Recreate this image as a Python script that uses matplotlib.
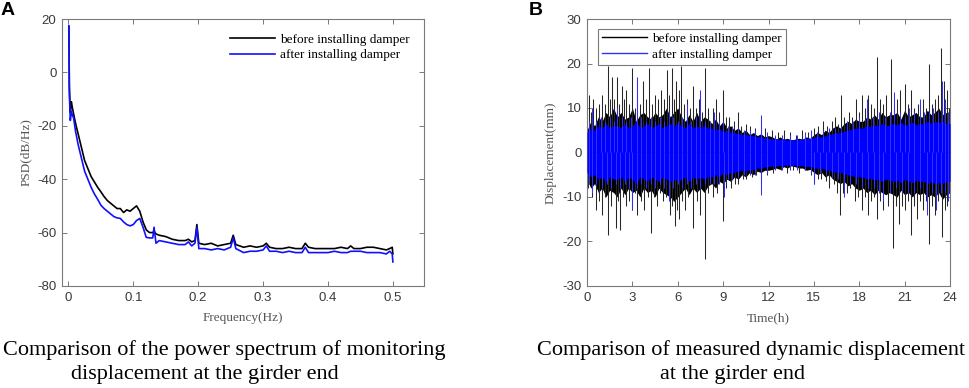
import numpy as np
import matplotlib
matplotlib.use('Agg')
import matplotlib.pyplot as plt
from matplotlib.lines import Line2D

# ---- panel A: power spectrum ----
freq = [0.0008, 0.0015, 0.003, 0.0046, 0.006, 0.008, 0.011, 0.015, 0.02, 0.025, 0.03, 0.035,
        0.04, 0.045, 0.05, 0.055, 0.06, 0.065, 0.07, 0.075, 0.08, 0.085, 0.09, 0.095, 0.1,
        0.105, 0.11, 0.115, 0.12, 0.125, 0.13, 0.132, 0.135, 0.14, 0.15, 0.16, 0.17, 0.18,
        0.185, 0.19, 0.195, 0.198, 0.201, 0.21, 0.22, 0.23, 0.24, 0.25, 0.254, 0.258, 0.27,
        0.28, 0.29, 0.3, 0.305, 0.31, 0.32, 0.33, 0.34, 0.35, 0.36, 0.365, 0.37, 0.38, 0.39,
        0.4, 0.41, 0.42, 0.43, 0.435, 0.44, 0.45, 0.46, 0.47, 0.48, 0.49, 0.495, 0.499, 0.5]
psd_before = [17, -5, -15, -11, -13, -15.5, -19, -23, -28, -33, -36, -39,
              -41, -43, -44.7, -46.5, -48, -49, -50, -51, -51, -52.5, -51.5, -52, -51,
              -50, -52, -56, -59, -60, -60, -59.5, -60.5, -61, -61.5, -62.5, -63, -63,
              -62.5, -63.5, -63, -57, -64, -64.5, -64, -65, -64.5, -64, -61, -64.5, -65.5,
              -65, -65.5, -65, -64, -65.5, -66, -66, -65.5, -66, -66, -64, -65.5, -66, -66,
              -66, -66, -65.5, -66, -65, -66, -66, -65.5, -65.5, -66, -66.5, -66, -65.5, -68]
psd_after = [17.5, -8, -18, -14.5, -16, -17, -22, -27, -32, -37, -40, -43,
             -45.5, -47.5, -49.7, -51, -52, -53, -54, -54.5, -54.7, -56, -57, -57.5, -57,
             -55.5, -54.7, -58, -61.8, -62, -62, -58, -64, -63, -63.5, -64, -64.5, -64.5,
             -63.5, -65, -64, -58, -66, -66, -66.5, -66, -66.5, -65.5, -62, -66, -67.5,
             -67, -67, -66.5, -65, -67, -67, -67.5, -67, -67.5, -67.5, -65.5, -67.5, -67.5, -67.5,
             -67.5, -67, -67.5, -67.5, -67, -67, -67, -67.5, -67.5, -67.5, -68, -67, -68, -71]

# ---- panel B: displacement time history ----
# dense band limits, every 0.25 h
t_core = np.arange(0, 24.01, 0.25)
band_hi_before = [5, 7, 6, 8, 7, 9, 8, 10, 8,
                  9, 7.5, 8, 10, 7, 8.5, 9, 8,
                  7.5, 9, 8, 8.5, 10, 8, 9, 10,
                  8, 7, 8.5, 7, 9, 7, 8, 7.5,
                  6.5, 7.5, 6, 7, 5.5, 6, 5, 5.5,
                  4.5, 5, 4, 4.5, 3.8, 4.2, 3.5, 3.8,
                  3.5, 3, 3.5, 3, 3.2, 2.8, 3, 3.2,
                  3, 3.5, 3.2, 4, 4.5, 4, 5, 4.5,
                  5.5, 6, 5.5, 6.5, 7, 6.5, 7.5, 7,
                  7, 8, 7.5, 8.5, 7.5, 9, 8, 8.5,
                  8.5, 9, 7.5, 9.5, 8, 8.5, 9, 8,
                  8, 9.5, 8.5, 9, 10, 8.5, 9, 8]
band_lo_before = [-6, -8, -7, -9, -8, -10, -8.5, -9, -10,
                  -8, -9.5, -8, -9, -8.5, -10, -8, -9,
                  -8.5, -10, -8, -9, -9.5, -10, -11, -10,
                  -9, -8, -9.5, -8, -9, -8, -9, -7.5,
                  -7, -8, -6.5, -7, -6, -6.5, -5.5, -6,
                  -5, -5.5, -4.5, -5, -4.2, -4.5, -4, -4,
                  -3.8, -3.5, -3.8, -3.2, -3.5, -3, -3.2, -3.5,
                  -3.5, -4, -3.8, -4.5, -5, -4.5, -5.5, -5,
                  -6, -6.5, -7, -6.5, -7.5, -7, -8, -8.5,
                  -8, -9, -8.5, -9.5, -8.5, -9, -9.5, -9,
                  -9.5, -10, -8.5, -9.5, -9, -10, -9, -9.5,
                  -9, -10, -9.5, -10, -9, -10.5, -9.5, -9]
band_after = [4.5, 5.5, 5, 6, 5.5, 6.5, 5.5, 6, 6,
              5.5, 6.5, 5.5, 6, 7, 5.5, 6, 6.5,
              5.5, 6, 6.5, 5.5, 6, 6.5, 6, 6.5,
              6, 5.5, 6.5, 5.5, 6, 5.5, 6, 5.5,
              5.5, 5, 5.5, 4.5, 5, 4.5, 4.5, 4.2,
              4, 4.2, 3.8, 3.8, 3.5, 3.6, 3.2, 3.2,
              3, 3.1, 2.9, 3, 2.8, 2.9, 2.8, 3,
              3, 3.2, 3.1, 3.4, 3.6, 3.5, 3.8, 4,
              4.2, 4.5, 4.4, 4.8, 5, 5.2, 5.5, 5.5,
              5.5, 6, 5.8, 6.2, 6, 6.5, 6, 6.2,
              6.5, 6.2, 6.8, 6, 6.5, 6.8, 6.2, 6.5,
              6.5, 7, 6.5, 7, 6.8, 7, 6.5, 6.5]

# spikes (time h, peak mm)
t_up_before = [0.1, 0.25, 0.4, 0.6, 0.8, 1.0, 1.2, 1.4, 1.5, 1.65, 1.8, 1.95, 2.1, 2.3, 2.45, 2.6,
               2.8, 3.0, 3.15, 3.3, 3.5, 3.7, 3.9, 4.1, 4.3, 4.5, 4.7, 4.9, 5.1, 5.3, 5.45, 5.6,
               5.75, 5.9, 6.05, 6.2, 6.4, 6.6, 6.8, 7.0, 7.2, 7.4, 7.6, 7.8, 8.0, 8.3, 8.5, 8.7,
               9.0, 9.2, 9.4, 9.7, 10.0, 10.2, 10.5, 10.8, 11.1, 11.5, 11.8, 12.2, 12.6, 13.0,
               13.4, 13.8, 14.2, 14.6, 15.0, 15.3, 15.6, 15.9, 16.2, 16.4, 16.6, 16.8, 17.0,
               17.3, 17.55, 17.8, 18.0, 18.2, 18.4, 18.6, 18.8, 19.0, 19.2, 19.4, 19.6, 19.8,
               20.1, 20.3, 20.5, 20.7, 21.0, 21.2, 21.4, 21.6, 21.9, 22.2, 22.4, 22.6, 22.8,
               23.0, 23.2, 23.4, 23.6, 23.8, 23.95]
v_up_before = [13, 9, 12, 10, 11, 13, 11, 19.5, 12, 17, 12, 17, 11, 15, 12, 14,
               11, 19, 10, 13, 11, 16, 12, 19, 11, 13, 12, 14, 12, 18.5, 13, 19,
               12, 16, 14, 19.5, 11, 12, 10, 15, 10, 12, 9, 19, 10, 10, 12, 9,
               14, 8, 8, 7, 9, 6, 6.5, 6, 5.5, 7, 5.5, 5, 4.5, 5,
               4.5, 4, 5, 4.5, 5.5, 6, 7, 6, 7, 8, 6.5, 13, 8,
               9, 8, 12, 9, 13, 10, 13, 11, 10, 21.5, 12, 11, 13,
               21, 11, 12, 14, 15.5, 11, 14, 10, 11, 12, 10, 20, 11,
               12, 13, 23.5, 16, 14, 10]
t_dn_before = [0.05, 0.3, 0.6, 0.8, 1.0, 1.2, 1.4, 1.6, 1.9, 2.05, 2.2, 2.4, 2.6, 2.8, 3.0, 3.15,
               3.3, 3.55, 3.8, 4.0, 4.2, 4.4, 4.6, 4.8, 5.0, 5.2, 5.5, 5.65, 5.8, 5.95, 6.1, 6.3,
               6.5, 6.7, 7.0, 7.25, 7.5, 7.8, 8.0, 8.3, 8.6, 9.0, 9.2, 9.5, 9.8, 10.0, 10.3,
               10.5, 10.9, 11.2, 11.5, 11.9, 12.3, 12.8, 13.2, 13.6, 14.0, 14.4, 14.8, 15.0,
               15.3, 15.5, 15.8, 16.0, 16.3, 16.5, 16.7, 16.9, 17.2, 17.4, 17.7, 17.9, 18.2,
               18.4, 18.6, 18.8, 19.0, 19.2, 19.4, 19.6, 19.9, 20.2, 20.4, 20.6, 20.8, 21.0,
               21.2, 21.4, 21.6, 21.8, 22.0, 22.2, 22.4, 22.6, 22.8, 23.0, 23.2, 23.5, 23.65,
               23.8, 23.95]
v_dn_before = [-8, -10, -13, -11, -14, -10, -18.5, -12, -17, -11, -17.5, -10, -12, -11, -13, -9,
               -14, -11, -13, -10, -18, -10, -12, -9, -11, -10, -14, -12, -16.5, -13, -15, -11,
               -13, -10, -17, -11, -14, -24, -9, -10, -9, -15.5, -8, -8, -7, -7, -6,
               -6, -5.5, -5, -7, -5, -4.5, -4, -4.5, -4, -4.5, -4, -5, -7,
               -6, -6, -6.5, -8, -7, -9, -14, -9, -9, -8, -11, -10, -13,
               -10, -14, -11, -10, -15, -11, -13, -12, -21.5, -12, -16, -12, -13,
               -11, -18.5, -12, -15, -11, -13, -11, -20.5, -12, -14, -11, -19, -13,
               -12, -9]

t_up_after = [0.1, 0.3, 0.6, 0.9, 1.2, 1.5, 1.8, 2.0, 2.3, 2.6, 2.9, 3.3, 3.6, 3.9, 4.2, 4.5,
              4.8, 5.1, 5.4, 5.7, 6.0, 6.3, 6.6, 6.9, 7.2, 7.5, 7.8, 8.1, 8.4, 8.7, 9.0, 9.3,
              9.6, 10.0, 10.4, 10.8, 11.1, 11.5, 11.9, 12.4, 12.9, 13.4, 13.9, 14.4, 14.8,
              15.2, 15.6, 16.0, 16.4, 16.8, 17.2, 17.6, 18.0, 18.5, 18.9, 19.3, 19.7, 20.0,
              20.3, 20.7, 21.0, 21.3, 21.6, 22.0, 22.3, 22.6, 22.9, 23.2, 23.5, 23.7, 23.9]
v_up_after = [7, 10, 7, 8, 7, 8, 7, 10, 8, 7, 8, 17, 8, 7, 8, 7,
              8, 7, 9, 8, 7, 8, 11, 7, 8, 14, 7, 7, 9, 7, 7, 6,
              6, 5.5, 5, 5, 5, 8.5, 4.5, 4, 4, 4, 4, 4.5, 5,
              4.5, 5, 5.5, 5.5, 6, 7, 7, 8, 12, 8, 9, 8, 9,
              13.5, 9, 8, 10, 9, 12, 9, 9, 10, 9, 16, 12, 9]
t_dn_after = [0.1, 0.3, 0.6, 1.0, 1.3, 1.6, 1.9, 2.2, 2.5, 2.8, 3.0, 3.3, 3.6, 3.9, 4.2, 4.5,
              4.8, 5.1, 5.4, 5.7, 6.0, 6.3, 6.6, 6.9, 7.2, 7.5, 7.8, 8.1, 8.4, 8.7, 9.05, 9.3,
              9.6, 10.0, 10.4, 10.8, 11.1, 11.5, 11.9, 12.4, 12.9, 13.4, 13.9, 14.4, 14.8,
              15.0, 15.4, 15.8, 16.2, 16.6, 17.0, 17.4, 17.8, 18.2, 18.6, 19.0, 19.3, 19.6,
              20.0, 20.4, 20.8, 21.2, 21.6, 22.0, 22.5, 22.8, 23.1, 23.4, 23.7, 23.9]
v_dn_after = [-7, -9, -7, -8, -7, -8, -7, -8, -7, -8, -13, -8, -7, -8, -7, -8,
              -7, -8, -11, -8, -7, -8, -7, -8, -7, -8, -7, -7, -7, -7, -10, -6,
              -6, -5.5, -5, -5, -5, -9.5, -4.5, -4, -4, -4, -4, -4, -4.5,
              -7, -4.5, -5, -5.5, -6, -10, -7, -7, -8, -8, -8, -9, -11,
              -9, -8, -9, -9, -9, -8, -14, -9, -13, -9, -9, -11]

label_before = 'before installing damper'
label_after = 'after installing damper'

serif = 'Liberation Serif'
sans = 'Liberation Sans'
grey = '#7a7a7a'
tick_col = '#3a3a3a'

fig = plt.figure(figsize=(9.69, 3.88), dpi=100)
axA = fig.add_axes([0.064, 0.263, 0.3736, 0.688])
axB = fig.add_axes([0.6058, 0.263, 0.3746, 0.688])

for ax in (axA, axB):
    for s in ax.spines.values():
        s.set_color(grey)
        s.set_linewidth(0.8)
    ax.tick_params(direction='in', length=3.5, width=0.7, color=grey, labelcolor=tick_col,
                   labelsize=9.5, top=True, right=True, pad=4)

# panel A
axA.plot(freq, psd_before, color='black', lw=1.2, label=label_before)
axA.plot(freq, psd_after, color='#1010ff', lw=1.2, label=label_after)
axA.set_xlim(-0.0098, 0.548)
axA.set_ylim(-80, 20)
axA.set_xticks([0, 0.1, 0.2, 0.3, 0.4, 0.5])
axA.set_xticklabels(['0', '0.1', '0.2', '0.3', '0.4', '0.5'], fontfamily=sans)
axA.set_yticks([-80, -60, -40, -20, 0, 20])
axA.set_yticklabels(['-80', '-60', '-40', '-20', '0', '20'], fontfamily=sans)
axA.set_xlabel('Frequency(Hz)', fontfamily=serif, fontsize=9.5, color='#555555', labelpad=6)
axA.set_ylabel('PSD(dB/Hz)', fontfamily=serif, fontsize=9.5, color='#555555', labelpad=4)
axA.legend(loc='upper left', bbox_to_anchor=(0.45, 0.965), frameon=False,
           prop={'family': serif, 'size': 9.5}, handlelength=3.4, handletextpad=0.4,
           labelspacing=0.25, borderaxespad=0)

# panel B
axB.fill_between(t_core, band_lo_before, band_hi_before, color='black', lw=0, zorder=1)
axB.vlines(t_up_before, 0, v_up_before, color='#262626', lw=0.75, zorder=2)
axB.vlines(t_dn_before, v_dn_before, 0, color='#262626', lw=0.75, zorder=2)
axB.fill_between(t_core, -np.array(band_after), band_after, color='#0000ff', lw=0, zorder=3)
axB.vlines(t_up_after, 0, v_up_after, color='#3030ff', lw=0.75, zorder=4)
axB.vlines(t_dn_after, v_dn_after, 0, color='#3030ff', lw=0.75, zorder=4)
axB.set_xlim(0, 24)
axB.set_ylim(-30, 30)
axB.set_xticks(range(0, 25, 3))
axB.set_xticklabels([str(v) for v in range(0, 25, 3)], fontfamily=sans)
axB.set_yticks(range(-30, 31, 10))
axB.set_yticklabels([str(v) for v in range(-30, 31, 10)], fontfamily=sans)
axB.set_xlabel('Time(h)', fontfamily=serif, fontsize=9.5, color='#555555', labelpad=6)
axB.set_ylabel('Displacement(mm)', fontfamily=serif, fontsize=9.5, color='#555555', labelpad=4)
handles = [Line2D([], [], color='black', lw=1), Line2D([], [], color='#3030ff', lw=1)]
legB = axB.legend(handles, [label_before, label_after], loc='upper left',
                  bbox_to_anchor=(0.03, 0.963), fancybox=False, edgecolor=grey,
                  prop={'family': serif, 'size': 9.5}, handlelength=3.4, handletextpad=0.4,
                  labelspacing=0.25, borderaxespad=0, borderpad=0.3, framealpha=1)
legB.get_frame().set_linewidth(0.8)
legB.set_zorder(10)

# panel letters and captions
fig.text(0.001, 0.995, 'A', fontfamily=sans, fontweight='bold', fontsize=14, va='top', ha='left')
fig.text(0.546, 0.995, 'B', fontfamily=sans, fontweight='bold', fontsize=14, va='top', ha='left')
fig.text(224 / 969, 1 - 350 / 388, 'Comparison of the power spectrum of monitoring',
         fontfamily=serif, fontsize=16, ha='center', va='center')
fig.text(205 / 969, 1 - 375 / 388, 'displacement at the girder end',
         fontfamily=serif, fontsize=16, ha='center', va='center')
fig.text(751 / 969, 1 - 350 / 388, 'Comparison of measured dynamic displacement',
         fontfamily=serif, fontsize=16, ha='center', va='center')
fig.text(733 / 969, 1 - 375 / 388, 'at the girder end',
         fontfamily=serif, fontsize=16, ha='center', va='center')

fig.savefig('out.png', dpi=100)
